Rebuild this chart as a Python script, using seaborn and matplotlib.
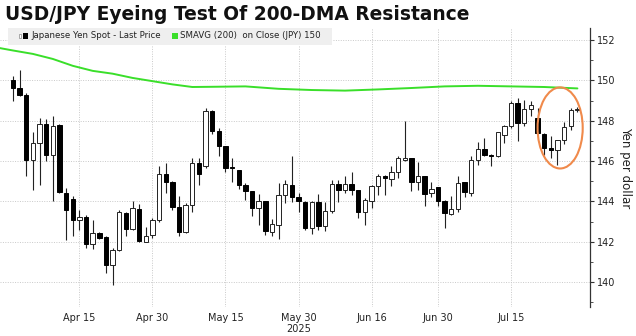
import numpy as np
import pandas as pd
import matplotlib
matplotlib.use("Agg")
import matplotlib.pyplot as plt
import matplotlib.transforms as mtransforms
from matplotlib.patches import Ellipse, Rectangle
import seaborn as sns

# ---------------- data ----------------
start_date = "2025-04-01"
opens = [150.00, 149.62, 149.29, 146.07, 146.90, 147.83, 146.28, 147.80, 144.41, 144.13,
         143.07, 143.20, 141.88, 142.43, 142.23, 140.86, 141.57, 143.42, 142.63, 143.64,
         141.98, 142.35, 143.06, 145.37, 144.96, 143.70, 142.46, 143.83, 145.90, 145.77,
         148.46, 147.47, 146.73, 145.69, 145.54, 144.83, 144.50, 143.67, 144.00, 142.48,
         142.84, 144.33, 144.83, 144.21, 143.97, 142.68, 143.97, 142.76, 143.50, 144.86,
         144.55, 144.86, 144.55, 143.45, 144.00, 144.74, 145.27, 145.11, 145.44, 146.03,
         146.15, 144.94, 145.24, 144.41, 144.71, 144.03, 143.39, 143.62, 144.94, 144.41,
         146.03, 146.60, 146.31, 146.23, 147.31, 147.72, 148.88, 147.88, 148.58, 148.13,
         147.36, 146.64, 146.56, 147.02, 147.72, 148.55]
highs = [150.20, 150.50, 149.35, 147.42, 148.13, 148.08, 148.25, 147.85, 144.66, 144.25,
         143.55, 143.30, 143.09, 142.50, 142.26, 141.69, 143.55, 143.45, 144.00, 143.87,
         142.73, 143.17, 145.74, 145.90, 144.99, 144.28, 143.92, 146.15, 146.15, 148.63,
         148.55, 147.64, 146.75, 146.15, 145.56, 144.91, 144.52, 144.38, 144.03, 143.12,
         144.91, 145.04, 146.26, 144.41, 144.00, 144.00, 144.36, 143.95, 145.07, 145.07,
         145.27, 145.44, 144.57, 144.17, 144.83, 145.37, 145.29, 145.77, 146.23, 148.00,
         146.17, 145.93, 145.26, 144.94, 144.73, 144.05, 144.25, 145.24, 144.96, 146.23,
         146.94, 147.14, 146.35, 147.46, 147.80, 148.96, 149.12, 149.04, 148.96, 148.63,
         147.38, 147.22, 147.04, 147.92, 148.63, 148.66]
lows = [148.96, 149.20, 145.24, 144.58, 144.83, 145.98, 144.00, 144.40, 142.10, 142.26,
        142.60, 141.69, 141.64, 142.15, 140.45, 139.87, 141.52, 142.26, 142.60, 141.98,
        141.97, 142.18, 143.00, 144.41, 143.55, 142.30, 142.43, 143.45, 144.83, 145.65,
        147.36, 146.23, 145.44, 144.94, 144.63, 144.08, 143.29, 142.84, 142.35, 142.26,
        142.13, 143.92, 143.95, 143.45, 142.56, 142.40, 142.60, 142.51, 143.42, 143.95,
        144.41, 144.33, 143.17, 142.84, 143.67, 144.33, 144.33, 144.74, 145.16, 145.98,
        144.50, 144.58, 143.75, 144.21, 143.75, 142.68, 143.34, 143.45, 144.21, 144.25,
        145.82, 146.23, 145.77, 146.20, 146.89, 147.64, 146.98, 147.75, 148.25, 147.36,
        146.31, 146.15, 145.82, 146.86, 147.52, 148.41]
closes = [149.62, 149.29, 146.07, 146.90, 147.83, 146.28, 147.75, 144.45, 143.55, 143.06,
          143.20, 141.88, 142.43, 142.18, 140.86, 141.60, 143.45, 142.63, 143.67, 142.02,
          142.30, 143.06, 145.37, 144.96, 143.72, 142.46, 143.80, 145.90, 145.37, 148.50,
          147.47, 146.73, 145.65, 145.65, 144.83, 144.50, 143.67, 144.00, 142.51, 142.88,
          144.33, 144.86, 144.21, 144.03, 142.68, 143.97, 142.76, 143.50, 144.86, 144.55,
          144.86, 144.55, 143.45, 144.08, 144.74, 145.27, 145.14, 145.44, 146.15, 146.15,
          144.94, 145.24, 144.38, 144.63, 144.00, 143.42, 143.62, 144.91, 144.45, 146.03,
          146.60, 146.31, 146.23, 147.44, 147.72, 148.88, 147.88, 148.58, 148.79, 147.39,
          146.64, 146.53, 147.02, 147.69, 148.55, 148.55]

# 200-day moving average read at selected trading-day positions
sma_pos = [-2, 0, 3, 6, 9, 12, 15, 18, 21, 24, 27, 30, 35, 40, 45, 50, 55, 60, 65, 70, 75, 80, 85]
sma_val = [151.60, 151.48, 151.31, 151.06, 150.72, 150.47, 150.33, 150.12, 149.96, 149.80,
           149.67, 149.68, 149.70, 149.58, 149.52, 149.49, 149.55, 149.62, 149.70, 149.73,
           149.70, 149.67, 149.60]

tick_dates = ["2025-04-15", "2025-04-30", "2025-05-15", "2025-05-30",
              "2025-06-16", "2025-06-30", "2025-07-15"]
tick_labels = ["Apr 15", "Apr 30", "May 15", "May 30", "Jun 16", "Jun 30", "Jul 15"]
y_ticks = [140, 142, 144, 146, 148, 150, 152]

title = "USD/JPY Eyeing Test Of 200-DMA Resistance"
legend_price = "Japanese Yen Spot - Last Price"
legend_sma = "SMAVG (200)  on Close (JPY) 150"
y_label = "Yen per dollar"

# ---------------- figure ----------------
sns.set_theme(style="white")
plt.rcParams["font.family"] = ["DejaVu Sans"]

W, H = 636, 336
fig = plt.figure(figsize=(W / 100, H / 100), dpi=100)
ax_left, ax_right, ax_top, ax_bot = 0, 590, 28, 307
ax = fig.add_axes([ax_left / W, 1 - ax_bot / H, (ax_right - ax_left) / W, (ax_bot - ax_top) / H])

dates = pd.bdate_range(start_date, periods=len(opens))
df = pd.DataFrame({"date": dates, "open": opens, "high": highs, "low": lows, "close": closes})
df["idx"] = np.arange(len(df))

edge = "#222222"
# wicks
ax.vlines(df["idx"], df["low"], df["high"], color=edge, lw=0.8, zorder=2)
# bodies
up = df["close"] >= df["open"]
body_bottom = np.minimum(df["open"], df["close"])
body_h = np.maximum(np.abs(df["close"] - df["open"]), 0.035)
ax.bar(df["idx"][up], body_h[up], bottom=body_bottom[up], width=0.66,
       color="white", edgecolor=edge, linewidth=0.7, zorder=3)
ax.bar(df["idx"][~up], body_h[~up], bottom=body_bottom[~up], width=0.66,
       color="black", edgecolor="black", linewidth=0.7, zorder=3)

# SMA line
sma_df = pd.DataFrame({"pos": sma_pos, "sma": sma_val})
sns.lineplot(data=sma_df, x="pos", y="sma", ax=ax, color="#3adf2a", lw=1.4, zorder=4)

# ellipse annotation
ax.add_patch(Ellipse((82.4, 147.64), width=6.8, height=4.02, fill=False,
                     edgecolor="#f08a4b", lw=1.5, zorder=6))

# axes styling
x0 = (0 - 13) / 6.64
x1 = (590 - 13) / 6.64
ax.set_xlim(x0, x1)
ax.set_ylim(152 - (ax_bot - 40) / 20.17, 152 + (40 - ax_top) / 20.17)

tick_pos = [int(np.where(dates == pd.Timestamp(d))[0][0]) for d in tick_dates]
ax.set_xticks(tick_pos)
ax.set_xticklabels(tick_labels, fontsize=7, color="#222222")
ax.tick_params(axis="x", length=0, pad=4)

ax.yaxis.tick_right()
ax.set_yticks(y_ticks)
ax.set_yticks(np.arange(139, 153, 2), minor=True)
ax.set_yticklabels([str(v) for v in y_ticks], fontsize=7, color="#222222")
ax.tick_params(axis="y", which="major", direction="out", length=3, width=0.8,
               color="#333333", pad=2, right=True, left=False)
ax.tick_params(axis="y", which="minor", direction="out", length=2, width=0.6,
               color="#333333", right=True, left=False)
ax.set_ylabel("")
ax.set_xlabel("")
fig.text(626 / W, 1 - 168 / H, y_label, rotation=270, fontsize=8.5, color="#222222",
         ha="center", va="center")

for s in ["top", "left", "bottom"]:
    ax.spines[s].set_visible(False)
ax.spines["right"].set_color("#333333")
ax.spines["right"].set_linewidth(0.9)

ax.grid(True, which="major", axis="both", linestyle=(0, (1, 1.5)), color="#c9c9c9", lw=0.7)
ax.set_axisbelow(True)

# year label under May 30
trans = mtransforms.blended_transform_factory(ax.transData, fig.transFigure)
ax.text(tick_pos[3], 1 - 329 / H, "2025", transform=trans, ha="center", va="center",
        fontsize=7, color="#222222")

# title
fig.text(5 / W, 1 - 14 / H, title, fontsize=13.4, fontweight="bold", color="#111111",
         ha="left", va="center")

# legend band
fig.patches.append(Rectangle((8 / W, 1 - 45 / H), (332 - 8) / W, 17 / H,
                             transform=fig.transFigure, facecolor="#efefef",
                             edgecolor="none", zorder=5))
ly = 1 - 36 / H
fig.patches.append(Rectangle((18.5 / W, 1 - 38 / H), 2.5 / W, 4 / H, transform=fig.transFigure,
                             facecolor="white", edgecolor="#888888", lw=0.5, zorder=6))
fig.patches.append(Rectangle((23 / W, 1 - 39 / H), 5 / W, 6 / H, transform=fig.transFigure,
                             facecolor="black", edgecolor="none", zorder=6))
fig.text(31 / W, ly, legend_price, fontsize=6.2, color="#222222", ha="left", va="center", zorder=7)
fig.patches.append(Rectangle((172 / W, 1 - 39 / H), 6 / W, 6 / H, transform=fig.transFigure,
                             facecolor="#3adf2a", edgecolor="none", zorder=6))
fig.text(180 / W, ly, legend_sma, fontsize=6.2, color="#222222", ha="left", va="center", zorder=7)

fig.savefig("out.png", dpi=100)
